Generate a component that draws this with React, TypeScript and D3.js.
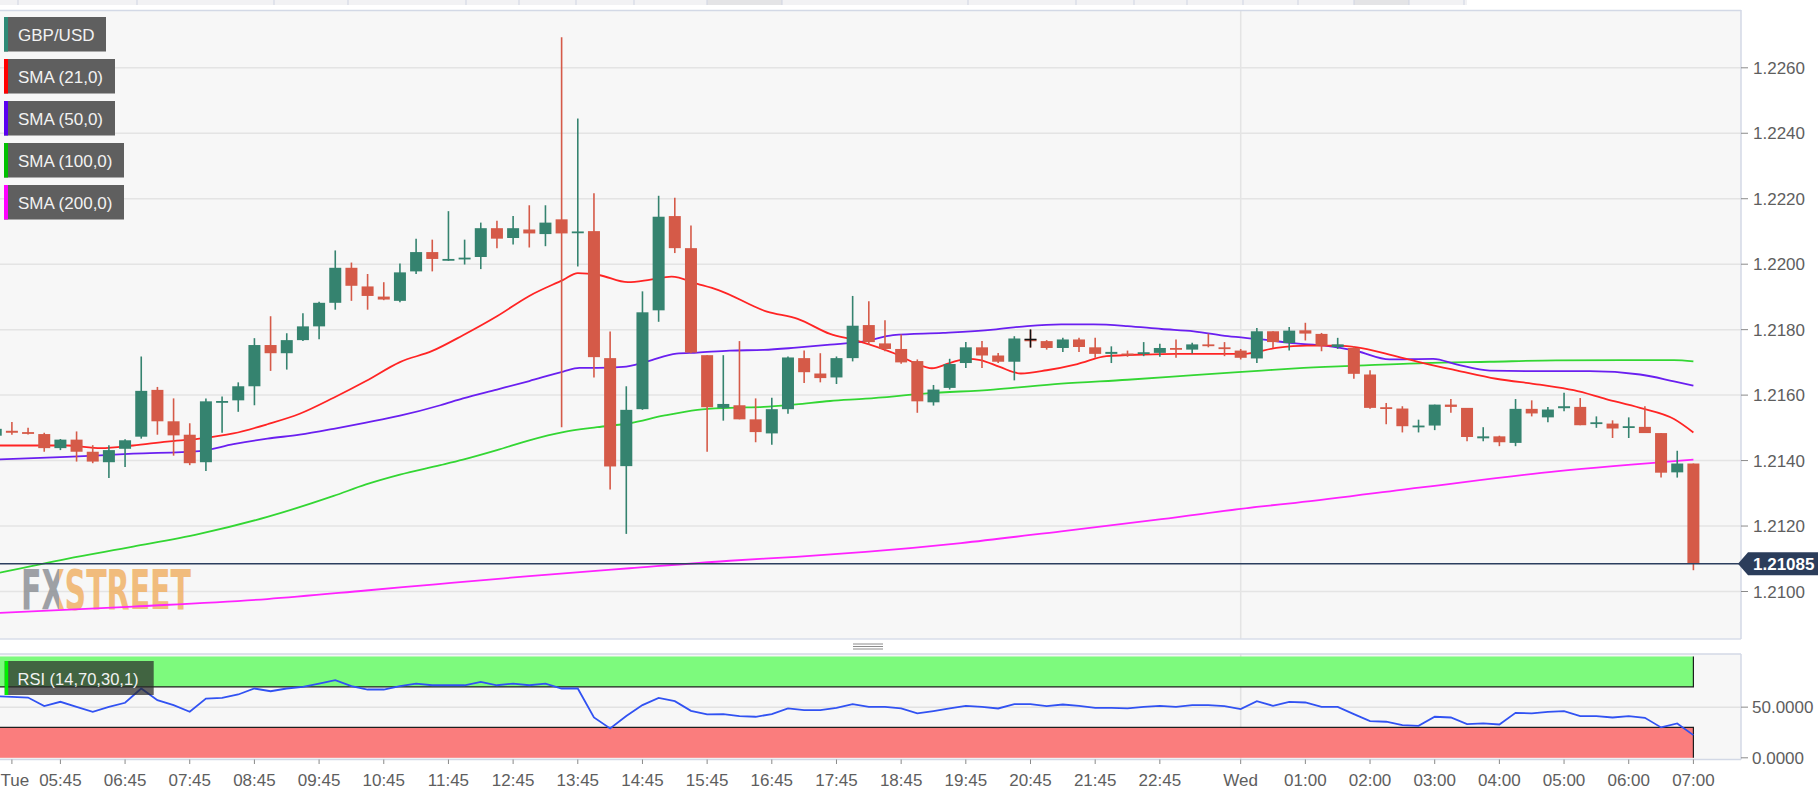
import React from "react";
import * as d3 from "d3";

// ---------- DATA (15-minute candles, index 0 = Tue 05:45) ----------
const firstIndex = -4;
const opens = [
  1.21476, 1.21491, 1.21487, 1.21481, 1.21438, 1.21464, 1.21427, 1.21395, 1.21436, 1.21473,
  1.21616, 1.2152, 1.21479, 1.21395, 1.2158, 1.21584, 1.21627, 1.21753, 1.21728, 1.21768,
  1.2181, 1.21882, 1.21989, 1.21932, 1.21901, 1.21888, 1.21978, 1.22037, 1.22012, 1.22015,
  1.22022, 1.2211, 1.2208, 1.22106, 1.22092, 1.22137, 1.22095, 1.22101, 1.21713, 1.21383,
  1.21557, 1.21859, 1.22147, 1.22049, 1.21722, 1.21561, 1.21569, 1.21526, 1.21483, 1.21557,
  1.21713, 1.21666, 1.21654, 1.21713, 1.21814, 1.21758, 1.21741, 1.21704, 1.21578, 1.21622,
  1.21698, 1.21746, 1.21721, 1.21702, 1.2177, 1.21765, 1.21744, 1.2177, 1.21746, 1.21726,
  1.21727, 1.21726, 1.21729, 1.21744, 1.21739, 1.21755, 1.21746, 1.21736, 1.21712, 1.21795,
  1.21759, 1.21798, 1.21787, 1.21747, 1.21744, 1.21663, 1.21563, 1.21559, 1.21502, 1.21507,
  1.21571, 1.21561, 1.21468, 1.21474, 1.21454, 1.21558, 1.21532, 1.2156, 1.21564, 1.21512,
  1.21513, 1.215, 1.21503, 1.21484, 1.21364, 1.21391,
];
const highs = [
  1.215, 1.21518, 1.215, 1.21485, 1.21466, 1.21489, 1.21447, 1.21447, 1.21465, 1.21718,
  1.21625, 1.2159, 1.21514, 1.2159, 1.21596, 1.21639, 1.21774, 1.21841, 1.21789, 1.2185,
  1.21885, 1.22042, 1.22005, 1.2197, 1.21945, 1.22002, 1.22078, 1.22075, 1.22162, 1.22075,
  1.22127, 1.22133, 1.22147, 1.2218, 1.2218, 1.22693, 1.22445, 1.22217, 1.21794, 1.21627,
  1.21917, 1.22209, 1.22203, 1.22118, 1.21722, 1.21722, 1.21765, 1.2159, 1.21592, 1.21718,
  1.21736, 1.21728, 1.21718, 1.21903, 1.21887, 1.21829, 1.21785, 1.21709, 1.21631, 1.21711,
  1.21762, 1.21765, 1.21729, 1.2178, 1.218, 1.21768, 1.21775, 1.21775, 1.21775, 1.21749,
  1.21736, 1.21762, 1.21757, 1.2177, 1.2176, 1.21788, 1.21762, 1.21741, 1.21805, 1.21795,
  1.21808, 1.21821, 1.2179, 1.21775, 1.21749, 1.21676, 1.21576, 1.21566, 1.21525, 1.21571,
  1.21588, 1.21561, 1.21502, 1.21476, 1.21588, 1.21584, 1.21564, 1.21607, 1.21591, 1.21535,
  1.21523, 1.21532, 1.21566, 1.21484, 1.2143, 1.21391,
];
const lows = [
  1.2147, 1.21479, 1.2148, 1.21427, 1.21432, 1.21397, 1.21392, 1.21347, 1.2138, 1.21467,
  1.21479, 1.21415, 1.21386, 1.21368, 1.21485, 1.21549, 1.21569, 1.21674, 1.21678, 1.21765,
  1.21771, 1.21861, 1.21888, 1.21861, 1.2189, 1.21884, 1.2197, 1.21978, 1.2201, 1.21999,
  1.21985, 1.22049, 1.2206, 1.22051, 1.22055, 1.21502, 1.21993, 1.21654, 1.21312, 1.21176,
  1.21555, 1.21824, 1.22034, 1.21728, 1.21427, 1.21522, 1.21526, 1.21456, 1.21448, 1.21543,
  1.21637, 1.21639, 1.21634, 1.21703, 1.21755, 1.21734, 1.21696, 1.21546, 1.21568, 1.21617,
  1.21683, 1.21683, 1.21698, 1.21645, 1.21745, 1.21739, 1.21732, 1.21732, 1.21714, 1.21698,
  1.21717, 1.21719, 1.21717, 1.21714, 1.21727, 1.21746, 1.21719, 1.21709, 1.21698, 1.21744,
  1.21736, 1.21767, 1.21734, 1.21741, 1.2165, 1.21558, 1.21511, 1.21486, 1.21486, 1.21493,
  1.21546, 1.21459, 1.21459, 1.21444, 1.21444, 1.21535, 1.21517, 1.21551, 1.21508, 1.215,
  1.21469, 1.21469, 1.21484, 1.21348, 1.21348, 1.21065,
];
const closes = [
  1.21497, 1.21485, 1.21484, 1.21438, 1.21464, 1.21427, 1.21397, 1.21432, 1.21462, 1.21613,
  1.2152, 1.21477, 1.21392, 1.21581, 1.21582, 1.21627, 1.21753, 1.21728, 1.21768, 1.2181,
  1.21882, 1.21989, 1.21934, 1.21903, 1.21892, 1.21975, 1.22037, 1.22016, 1.22016, 1.2202,
  1.2211, 1.22078, 1.2211, 1.22094, 1.22127, 1.22094, 1.221, 1.21716, 1.21382, 1.21555,
  1.21853, 1.22145, 1.22049, 1.2173, 1.21563, 1.21573, 1.21526, 1.21487, 1.21557, 1.21715,
  1.2167, 1.21652, 1.21713, 1.21812, 1.21762, 1.21741, 1.217, 1.21581, 1.21617, 1.21695,
  1.21746, 1.21721, 1.21702, 1.21773, 1.21768, 1.21744, 1.2177, 1.21747, 1.21726, 1.21732,
  1.21722, 1.21731, 1.21744, 1.21739, 1.21755, 1.2175, 1.21741, 1.21714, 1.21795, 1.21762,
  1.21797, 1.21788, 1.21751, 1.21755, 1.21665, 1.21561, 1.21558, 1.21505, 1.21507, 1.21571,
  1.21564, 1.21472, 1.21474, 1.21456, 1.21558, 1.21544, 1.21556, 1.21566, 1.21508, 1.21517,
  1.21498, 1.21505, 1.21484, 1.21363, 1.21391, 1.21085,
];

// Moving averages: [candle index, price]
const sma21: [number, number][] = [
  [-4, 1.21446], [-1.7, 1.21446], [0.4, 1.21446], [2.5, 1.21438], [4.5, 1.21446], [6.6, 1.21458],
  [8.6, 1.21467], [10.7, 1.21483], [12.8, 1.21511], [14.8, 1.21543], [16.9, 1.21592], [18.9, 1.21643],
  [21, 1.21701], [23, 1.21735], [24.9, 1.21783], [27, 1.21841], [29, 1.21903], [31.1, 1.21952],
  [32, 1.21973], [33.3, 1.21967], [35.1, 1.21945], [36.5, 1.21953], [37.8, 1.21962], [39.4, 1.2194],
  [40.7, 1.21921], [43.7, 1.21855], [45.6, 1.21833], [47.6, 1.21787], [49.3, 1.21766], [51.6, 1.21727],
  [52.9, 1.21697], [53.9, 1.21682], [55, 1.21698], [56.1, 1.21711], [56.9, 1.21707], [58.1, 1.21686],
  [59.4, 1.21666], [61, 1.21676], [62.9, 1.21695], [64.7, 1.21719], [67, 1.21724], [69, 1.21726],
  [71.1, 1.21726], [73.2, 1.21726], [75.2, 1.21744], [77.1, 1.21751], [79.1, 1.21751], [80.2, 1.21746],
  [82.2, 1.21724], [84.3, 1.21698], [86.4, 1.21675], [88.8, 1.2165], [91.5, 1.21632], [93.6, 1.21615],
  [95.6, 1.21588], [97.7, 1.21561], [99.8, 1.21527], [101, 1.21486],
];
const sma50: [number, number][] = [
  [-4, 1.21403], [0.4, 1.21411], [4.5, 1.21421], [8.6, 1.21429], [10.7, 1.2145], [12.8, 1.21467],
  [14.8, 1.21479], [16.9, 1.21497], [18.9, 1.21516], [21, 1.21537], [23.5, 1.21569], [24.9, 1.2159],
  [27, 1.21617], [29, 1.21643], [31.1, 1.21672], [32.1, 1.21683], [33.2, 1.21683], [34.8, 1.21686],
  [36.3, 1.21703], [38.1, 1.21727], [39.4, 1.2173], [41.4, 1.21736], [43.5, 1.21738], [45.5, 1.21745],
  [47.6, 1.21754], [49.8, 1.21765], [51.5, 1.21783], [54.6, 1.2179], [57.7, 1.218], [59.8, 1.21811],
  [61.9, 1.21816], [63.9, 1.21816], [66, 1.21811], [68.1, 1.21802], [70.1, 1.21795], [72.2, 1.2178],
  [74.3, 1.2177], [76.4, 1.21758], [78.2, 1.21751], [80.2, 1.21734], [82.2, 1.21709], [84.9, 1.21711],
  [86.4, 1.21693], [88.4, 1.21675], [92.5, 1.21673], [94.6, 1.21673], [97.7, 1.21663], [99.8, 1.21642],
  [101, 1.21629],
];
const sma100: [number, number][] = [
  [-4, 1.21055], [0.4, 1.211], [4.5, 1.21137], [8.6, 1.21176], [12.8, 1.21228], [16.9, 1.21292],
  [18.9, 1.21327], [21, 1.21357], [23.5, 1.21386], [24.9, 1.21403], [27, 1.21432], [29, 1.21462],
  [31.1, 1.21487], [33.2, 1.21502], [35.2, 1.21514], [37.3, 1.21537], [39.4, 1.21555], [41.4, 1.21561],
  [43.5, 1.21564], [45.5, 1.21572], [47.6, 1.21582], [49.8, 1.21589], [53.6, 1.21605], [57.7, 1.21617],
  [61.9, 1.21635], [66, 1.21647], [70.1, 1.21661], [74.3, 1.21675], [76.4, 1.21682], [80.2, 1.2169],
  [84.3, 1.21698], [88.4, 1.21702], [92.5, 1.21706], [96.6, 1.21707], [99.8, 1.21707], [101, 1.21703],
];
const sma200: [number, number][] = [
  [-4, 1.20934], [4.5, 1.20954], [12.8, 1.20977], [18.9, 1.21003], [23.2, 1.21022], [29, 1.21047],
  [35.2, 1.21071], [41.4, 1.21094], [45.5, 1.21106], [49.8, 1.21121], [55.7, 1.21148], [61.9, 1.21184],
  [68.1, 1.21221], [74.3, 1.2126], [76.4, 1.21271], [84.3, 1.21319], [92.5, 1.21367], [101, 1.21403],
];

// RSI (14) per candle, index -4 .. 101
const rsi = [
  60.8, 60.2, 59.5, 51.0, 55.3, 50.3, 45.4, 50.3, 54.3, 68.4,
  56.9, 52.0, 45.4, 58.5, 59.2, 62.5, 68.4, 65.7, 68.4, 70.0,
  73.3, 76.6, 70.7, 67.4, 67.4, 70.7, 73.3, 71.6, 71.6, 71.6,
  74.9, 71.6, 73.3, 71.6, 73.3, 68.4, 68.4, 39.8, 29.0, 41.2,
  52.0, 59.2, 55.9, 46.4, 42.8, 43.1, 41.2, 40.5, 43.1, 48.7,
  47.0, 47.0, 49.3, 52.9, 50.3, 50.3, 48.7, 43.8, 46.1, 48.7,
  51.3, 50.3, 48.7, 53.0, 53.0, 51.0, 52.6, 51.3, 49.3, 49.3,
  48.7, 50.3, 51.3, 50.3, 52.0, 52.0, 51.0, 48.0, 55.9, 51.3,
  55.2, 54.6, 50.3, 50.3, 43.1, 36.2, 35.6, 32.3, 31.6, 40.5,
  39.8, 33.3, 33.9, 32.9, 44.4, 43.8, 45.4, 46.1, 41.2, 41.2,
  39.8, 41.2, 39.5, 30.0, 33.9, 22.4,
];

const priceTicks = [1.21, 1.212, 1.214, 1.216, 1.218, 1.22, 1.222, 1.224, 1.226];
const rsiTicks = [0, 50];
const rsiUpper = 70;
const rsiLower = 30;
const timeLabels = [
  "Tue", "05:45", "06:45", "07:45", "08:45", "09:45", "10:45", "11:45", "12:45", "13:45", "14:45",
  "15:45", "16:45", "17:45", "18:45", "19:45", "20:45", "21:45", "22:45", "Wed", "01:00", "02:00",
  "03:00", "04:00", "05:00", "06:00", "07:00",
];
const timeLabelIndex = [
  -3, 0, 4, 8, 12, 16, 20, 24, 28, 32, 36, 40, 44, 48, 52, 56, 60, 64, 68, 73, 77, 81, 85, 89, 93, 97, 101,
];
const dayBreakIndex = 73;
const cursorIndex = 60;
const cursorPrice = 1.2177;
const lastPrice = 1.21085;
const legendItems = ["GBP/USD", "SMA (21,0)", "SMA (50,0)", "SMA (100,0)", "SMA (200,0)"];
const legendColors = ["#2e8a76", "#ff0000", "#5a00f0", "#00c000", "#ff00ff"];
const legendWidths = [102, 111, 111, 120, 120];

const tabSeparators = [18, 137, 274, 348, 466, 519, 576, 634, 707, 782, 968, 1076, 1134, 1187, 1243, 1298, 1354, 1409, 1464];

const FONT = "'Liberation Sans', Arial, Helvetica, sans-serif";
const WM_FONT = "'DejaVu Sans Condensed', 'DejaVu Sans', sans-serif";

export default function App() {
  const W = 1818;
  const H = 789;
  const plotR = 1741;
  const mainTop = 11;
  const mainBot = 639;
  const rsiTop = 654;
  const rsiBot = 759.5;

  const x = d3.scaleLinear().domain([0, 101]).range([60.4, 1693.4]);
  const y = d3.scaleLinear().domain([1.21, 1.226]).range([591.5, 67.8]);
  const yr = d3.scaleLinear().domain([0, 100]).range([757.8, 656.5]);

  const up = "#35836f";
  const down = "#d55a48";
  const bodyW = 12;

  const candles = opens.map((o, k) => ({
    i: firstIndex + k,
    o,
    h: highs[k],
    l: lows[k],
    c: closes[k],
  }));

  const smaLine = d3
    .line<[number, number]>()
    .x((d) => x(d[0]))
    .y((d) => y(d[1]))
    .curve(d3.curveMonotoneX);

  const rsiLine = d3
    .line<number>()
    .x((_, k) => x(firstIndex + k))
    .y((d) => yr(d));

  const dayX = x(dayBreakIndex);
  const lastX = x(101);

  return (
    <div style={{ position: "absolute", left: 0, top: 0, width: W, height: H, background: "#ffffff" }}>
      <svg width={W} height={H} style={{ display: "block", fontFamily: FONT }}>
        <defs>
          <clipPath id="mainClip">
            <rect x={0} y={mainTop} width={plotR} height={mainBot - mainTop} />
          </clipPath>
          <clipPath id="rsiClip">
            <rect x={0} y={rsiTop} width={plotR} height={rsiBot - rsiTop} />
          </clipPath>
          <linearGradient id="wmFill" gradientUnits="userSpaceOnUse" x1={21} x2={191} y1={0} y2={0}>
            <stop offset={0} stopColor="#8f9297" />
            <stop offset={0.226} stopColor="#8f9297" />
            <stop offset={0.226} stopColor="#f0b268" />
            <stop offset={1} stopColor="#f0b268" />
          </linearGradient>
        </defs>
        <rect x={0} y={0} width={W} height={H} fill="#ffffff" />

        {/* top tab strip fragment */}
        <rect x={0} y={0} width={1467} height={5} fill="#f2f2f4" />
        <rect x={707} y={0} width={75} height={5} fill="#e4e4e6" />
        <rect x={1354} y={0} width={55} height={5} fill="#e4e4e6" />
        {tabSeparators.map((s) => (
          <line key={s} x1={s} x2={s} y1={0} y2={5} stroke="#cfd4e2" strokeWidth={1} />
        ))}

        {/* main panel */}
        <rect x={0} y={mainTop} width={plotR} height={mainBot - mainTop} fill="#f7f7f7" />
        {priceTicks.map((t) => (
          <line key={t} x1={0} x2={plotR} y1={y(t)} y2={y(t)} stroke="#e4e4e4" strokeWidth={1.5} />
        ))}
        <line x1={dayX} x2={dayX} y1={mainTop} y2={mainBot} stroke="#e4e4e4" strokeWidth={1.5} />

        {/* watermark */}
        <text
          x={21}
          y={609}
          fontFamily={WM_FONT}
          fontWeight="bold"
          fontSize={56}
          fill="url(#wmFill)"
          opacity={0.85}
          textLength={170}
          lengthAdjust="spacingAndGlyphs"
        >
          FXSTREET
        </text>

        <g clipPath="url(#mainClip)">
          <path d={smaLine(sma200) || ""} fill="none" stroke="#ff22ff" strokeWidth={1.8} />
          <path d={smaLine(sma100) || ""} fill="none" stroke="#33d633" strokeWidth={1.8} />
          <path d={smaLine(sma50) || ""} fill="none" stroke="#6a1ff0" strokeWidth={1.8} />
          <path d={smaLine(sma21) || ""} fill="none" stroke="#ff2424" strokeWidth={1.8} />

          {candles.map((d) => {
            const cx = x(d.i);
            const col = d.c >= d.o ? up : down;
            const top = y(Math.max(d.o, d.c));
            const hgt = Math.max(1.8, Math.abs(y(d.o) - y(d.c)));
            return (
              <g key={d.i}>
                <line x1={cx} x2={cx} y1={y(d.h)} y2={y(d.l)} stroke={col} strokeWidth={1.6} />
                <rect x={cx - bodyW / 2} y={top} width={bodyW} height={hgt} fill={col} />
              </g>
            );
          })}

          {/* mouse cursor */}
          <line x1={x(cursorIndex)} x2={x(cursorIndex)} y1={y(cursorPrice) - 10} y2={y(cursorPrice) + 8} stroke="#111" strokeWidth={1.5} />
          <line x1={x(cursorIndex) - 6} x2={x(cursorIndex) + 6} y1={y(cursorPrice)} y2={y(cursorPrice)} stroke="#111" strokeWidth={1.5} />

          <line x1={0} x2={plotR} y1={y(lastPrice)} y2={y(lastPrice)} stroke="#2c3f5f" strokeWidth={1.5} />
        </g>

        {/* main panel border */}
        <line x1={0} x2={plotR} y1={mainTop - 0.5} y2={mainTop - 0.5} stroke="#d3d9e6" strokeWidth={1.5} />
        <line x1={0} x2={plotR} y1={mainBot} y2={mainBot} stroke="#d9deea" strokeWidth={1.5} />
        <line x1={plotR} x2={plotR} y1={mainTop - 1} y2={mainBot} stroke="#d3d9e6" strokeWidth={1.5} />

        {/* price axis */}
        {priceTicks.map((t) => (
          <g key={t}>
            <line x1={plotR} x2={plotR + 7} y1={y(t)} y2={y(t)} stroke="#8a8a8a" strokeWidth={1} />
            <text x={plotR + 12} y={y(t) + 6} fontSize={17} fill="#5e5e5e">
              {t.toFixed(4)}
            </text>
          </g>
        ))}
        <path
          d={`M ${plotR - 3} ${y(lastPrice)} L ${plotR + 7} ${y(lastPrice) - 11.5} L ${W} ${y(lastPrice) - 11.5} L ${W} ${y(lastPrice) + 11.5} L ${plotR + 7} ${y(lastPrice) + 11.5} Z`}
          fill="#2b3d5b"
        />
        <text x={plotR + 12} y={y(lastPrice) + 6} fontSize={17} fontWeight="bold" fill="#ffffff">
          {lastPrice.toFixed(5)}
        </text>

        {/* legend */}
        {legendItems.map((name, k) => {
          const top = 17 + k * 42;
          return (
            <g key={name}>
              <rect x={4} y={top} width={legendWidths[k]} height={34.5} fill="#5f5f5f" />
              <rect x={4} y={top} width={4} height={34.5} fill={legendColors[k]} />
              <text x={18} y={top + 23.5} fontSize={17} fill="#f2f2f2">
                {name}
              </text>
            </g>
          );
        })}

        {/* panel resize handle */}
        {[644, 646.5, 649].map((hy) => (
          <line key={hy} x1={853} x2={883} y1={hy} y2={hy} stroke="#8c8c8c" strokeWidth={1} />
        ))}

        {/* RSI panel */}
        <rect x={0} y={rsiTop} width={plotR} height={rsiBot - rsiTop} fill="#f7f7f7" />
        <g clipPath="url(#rsiClip)">
          <line x1={0} x2={plotR} y1={yr(50)} y2={yr(50)} stroke="#e2e2e2" strokeWidth={1.5} />
          <line x1={dayX} x2={dayX} y1={rsiTop} y2={rsiBot} stroke="#e2e2e2" strokeWidth={1.5} />
          <rect x={-2} y={yr(100)} width={lastX + 2} height={yr(rsiUpper) - yr(100)} fill="#7dfa7d" />
          <rect x={-2} y={yr(rsiLower)} width={lastX + 2} height={yr(0) - yr(rsiLower)} fill="#fa7d7d" />
          <path d={`M -2 ${yr(rsiUpper)} L ${lastX} ${yr(rsiUpper)} L ${lastX} ${yr(100)}`} fill="none" stroke="#1e1e1e" strokeWidth={1.2} />
          <path d={`M -2 ${yr(rsiLower)} L ${lastX} ${yr(rsiLower)} L ${lastX} ${yr(0)}`} fill="none" stroke="#1e1e1e" strokeWidth={1.2} />
          <path d={rsiLine(rsi) || ""} fill="none" stroke="#3152f2" strokeWidth={1.8} />
        </g>
        <g>
          <rect x={4.7} y={661} width={149} height={34} fill="#2a2a2a" opacity={0.72} />
          <rect x={4.7} y={661} width={3.5} height={34} fill="#00f000" />
          <text x={17.5} y={685} fontSize={16.5} fill="#f2f2f2">
            RSI (14,70,30,1)
          </text>
        </g>
        <line x1={0} x2={plotR} y1={rsiTop} y2={rsiTop} stroke="#d3d9e6" strokeWidth={1.5} />
        <line x1={0} x2={plotR} y1={rsiBot} y2={rsiBot} stroke="#d3d9e6" strokeWidth={1.5} />
        <line x1={plotR} x2={plotR} y1={rsiTop} y2={rsiBot} stroke="#d3d9e6" strokeWidth={1.5} />
        {rsiTicks.map((t) => (
          <g key={t}>
            <line x1={plotR} x2={plotR + 7} y1={yr(t)} y2={yr(t)} stroke="#8a8a8a" strokeWidth={1} />
            <text x={plotR + 11} y={yr(t) + 6} fontSize={17} fill="#5e5e5e">
              {t.toFixed(4)}
            </text>
          </g>
        ))}

        {/* time axis */}
        {timeLabels.map((lab, k) => {
          const tx = x(timeLabelIndex[k]);
          const first = k === 0;
          return (
            <g key={lab + k}>
              <line x1={tx} x2={tx} y1={rsiBot} y2={rsiBot + 4.5} stroke="#8a8a8a" strokeWidth={1} />
              <text
                x={first ? 0.5 : tx}
                y={786}
                fontSize={17}
                fill="#5e5e5e"
                textAnchor={first ? "start" : "middle"}
              >
                {lab}
              </text>
            </g>
          );
        })}
      </svg>
    </div>
  );
}
